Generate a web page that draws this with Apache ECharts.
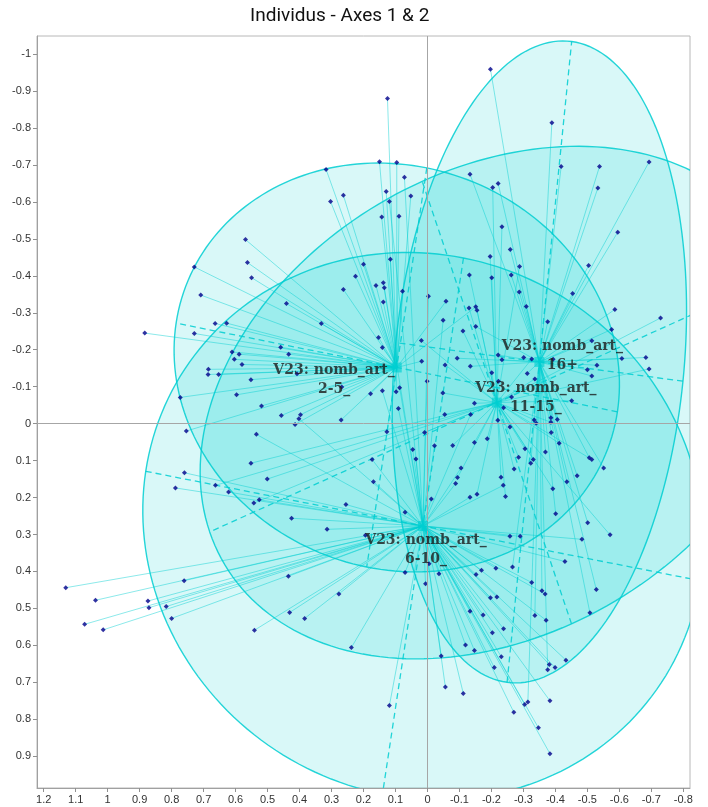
<!DOCTYPE html>
<html><head><meta charset="utf-8">
<script src="https://cdn.jsdelivr.net/npm/echarts@6/dist/echarts.min.js"></script>
<style>html,body{margin:0;padding:0;background:#fff}#main{width:708px;height:807px}</style>
</head><body><div id="main"></div>
<script>
const groupNames = ['2-5_', '6-10_', '11-15_', '16+'];
const centroids = [[0.096, -0.152], [0.014, 0.277], [-0.217, -0.057], [-0.350, -0.167]];
const ellipseMajor = [[0.690, -0.120], [-0.867, 0.148], [0.898, 0.350], [-0.101, -0.867]];
const ellipseMinor = [[0.0939, 0.540], [0.1266, 0.7253], [0.2334, -0.5987], [0.449, -0.0522]];

const pts_2_5 = [[0.125,-0.880],[0.150,-0.709],[0.096,-0.707],[0.129,-0.628],[0.052,-0.616],[0.143,-0.559],[0.089,-0.561],[0.317,-0.688],[0.303,-0.601],[0.263,-0.618],[0.200,-0.431],[0.225,-0.399],[0.263,-0.363],[0.569,-0.498],[0.563,-0.436],[0.550,-0.395],[0.729,-0.424],[0.709,-0.348],[0.441,-0.325],[0.116,-0.445],[0.161,-0.374],[0.138,-0.381],[0.138,-0.329],[0.078,-0.358],[-0.058,-0.331],[-0.151,-0.316],[0.332,-0.271],[0.664,-0.271],[0.628,-0.272],[0.884,-0.245],[0.729,-0.244],[0.459,-0.207],[0.434,-0.188],[0.611,-0.194],[0.589,-0.188],[0.604,-0.174],[0.580,-0.160],[0.685,-0.147],[0.686,-0.133],[0.653,-0.133],[0.552,-0.119],[0.597,-0.078],[0.773,-0.071],[0.519,-0.048],[0.408,-0.135],[0.268,-0.099],[0.153,-0.233],[0.141,-0.206],[0.018,-0.169],[0.178,-0.081],[0.098,-0.086],[0.457,-0.022],[0.397,-0.024],[0.414,0.002],[0.270,-0.010],[0.127,0.022],[0.754,0.020]];
const pts_6_10 = [[0.072,-0.667],[0.119,-0.601],[0.135,-0.368],[-0.003,-0.345],[-0.049,-0.280],[0.001,-0.115],[0.141,-0.089],[0.087,-0.097],[0.091,-0.041],[-0.135,-0.025],[0.402,-0.013],[0.535,0.029],[-0.022,0.060],[0.046,0.070],[0.036,0.096],[0.173,0.097],[-0.105,0.120],[-0.088,0.162],[-0.237,0.167],[0.169,0.157],[0.255,0.219],[-0.012,0.204],[-0.133,0.199],[0.070,0.240],[-0.258,0.305],[-0.290,0.305],[-0.483,0.313],[0.760,0.133],[0.788,0.174],[0.622,0.185],[0.526,0.206],[0.425,0.256],[0.314,0.286],[0.194,0.302],[0.761,0.425],[0.435,0.413],[0.277,0.461],[1.131,0.444],[1.038,0.478],[0.874,0.480],[0.871,0.498],[0.817,0.495],[0.800,0.527],[1.072,0.543],[1.014,0.558],[0.431,0.511],[0.384,0.527],[0.541,0.559],[0.238,0.606],[-0.430,0.373],[0.070,0.403],[-0.005,0.379],[-0.036,0.406],[0.006,0.433],[-0.152,0.408],[-0.169,0.397],[-0.214,0.391],[-0.326,0.430],[-0.368,0.461],[-0.197,0.471],[-0.217,0.469],[-0.133,0.508],[-0.174,0.518],[-0.371,0.532],[-0.203,0.566],[-0.238,0.555],[-0.119,0.599],[-0.147,0.614],[-0.043,0.629],[-0.231,0.631],[-0.209,0.660],[-0.381,0.652],[-0.399,0.660],[-0.433,0.640],[-0.056,0.713],[-0.112,0.730],[0.119,0.763],[-0.304,0.760],[-0.383,0.750],[-0.270,0.781],[-0.347,0.823],[-0.383,0.893]];
const pts_11_15 = [[-0.204,-0.639],[-0.233,-0.533],[-0.196,-0.452],[-0.288,-0.425],[-0.131,-0.402],[-0.201,-0.395],[-0.729,-0.286],[-0.130,-0.313],[-0.155,-0.307],[-0.111,-0.251],[0.019,-0.225],[-0.055,-0.159],[-0.201,-0.138],[-0.326,-0.175],[-0.048,-0.083],[-0.054,-0.025],[-0.147,-0.055],[-0.222,-0.115],[-0.263,-0.072],[-0.238,-0.043],[-0.336,-0.121],[-0.693,-0.148],[-0.451,-0.062],[-0.220,-0.009],[-0.258,0.009],[-0.334,-0.010],[-0.386,-0.004],[-0.412,0.053],[0.009,0.024],[-0.079,0.059],[-0.147,0.051],[-0.187,0.041],[-0.305,0.068],[-0.285,0.091],[-0.331,0.097],[-0.271,0.123],[-0.094,0.146],[-0.230,0.145],[-0.244,0.197],[-0.392,0.176],[-0.155,0.191],[-0.514,0.097],[-0.571,0.301],[0.552,0.107],[0.501,0.150],[0.663,0.167],[0.543,0.215]];
const pts_16 = [[-0.197,-0.959],[-0.389,-0.814],[-0.418,-0.696],[-0.538,-0.696],[-0.693,-0.708],[-0.533,-0.638],[-0.133,-0.675],[-0.221,-0.650],[-0.595,-0.518],[-0.259,-0.471],[-0.504,-0.428],[-0.262,-0.402],[-0.454,-0.352],[-0.586,-0.309],[-0.287,-0.356],[-0.309,-0.317],[-0.151,-0.263],[-0.376,-0.276],[-0.576,-0.255],[-0.514,-0.224],[-0.093,-0.177],[-0.134,-0.155],[-0.221,-0.186],[-0.233,-0.173],[-0.301,-0.179],[-0.393,-0.174],[-0.312,-0.136],[-0.500,-0.146],[-0.530,-0.158],[-0.514,-0.129],[-0.608,-0.176],[-0.683,-0.179],[-0.340,-0.001],[-0.386,-0.016],[-0.406,-0.011],[-0.387,0.024],[-0.369,0.077],[-0.323,0.107],[-0.436,0.157],[-0.401,0.244],[-0.506,0.092],[-0.551,0.120],[-0.468,0.141],[-0.501,0.268],[-0.266,0.388],[-0.358,0.452],[-0.528,0.449],[-0.336,0.519],[-0.508,0.512],[-0.376,0.666],[-0.314,0.753]];

const xTicks = [1.2,1.1,1,0.9,0.8,0.7,0.6,0.5,0.4,0.3,0.2,0.1,0,-0.1,-0.2,-0.3,-0.4,-0.5,-0.6,-0.7,-0.8];
const yTicks = [-1,-0.9,-0.8,-0.7,-0.6,-0.5,-0.4,-0.3,-0.2,-0.1,0,0.1,0.2,0.3,0.4,0.5,0.6,0.7,0.8,0.9];

const groupPoints = [pts_2_5, pts_6_10, pts_11_15, pts_16];
const labelOffsets = [[-62.7, 12.7], [3, 24], [39, -4.5], [23, -6.5]];

const CYAN = '0,206,209';
const starData = [];
const allPoints = [];
groupPoints.forEach((arr, g) => {
  arr.forEach(p => {
    starData.push([p[0], p[1], centroids[g][0], centroids[g][1]]);
    allPoints.push(p);
  });
});

function clipOf(params) {
  const cs = params.coordSys;
  return {type: 'rect', shape: {x: cs.x, y: cs.y, width: cs.width, height: cs.height}};
}

function renderEllipse(params, api) {
  const i = params.dataIndex;
  const c = centroids[i], u = ellipseMajor[i], v = ellipseMinor[i];
  const pts = [];
  const N = 200;
  for (let k = 0; k < N; k++) {
    const t = k / N * Math.PI * 2;
    pts.push(api.coord([c[0] + Math.cos(t) * u[0] + Math.sin(t) * v[0],
                        c[1] + Math.cos(t) * u[1] + Math.sin(t) * v[1]]));
  }
  const a1 = api.coord([c[0] - u[0], c[1] - u[1]]), a2 = api.coord([c[0] + u[0], c[1] + u[1]]);
  const b1 = api.coord([c[0] - v[0], c[1] - v[1]]), b2 = api.coord([c[0] + v[0], c[1] + v[1]]);
  const dash = {stroke: 'rgba(' + CYAN + ',0.85)', lineWidth: 1.3, lineDash: [6, 4]};
  return {
    type: 'group',
    clipPath: clipOf(params),
    children: [
      {type: 'polygon', shape: {points: pts}, style: {fill: 'rgba(' + CYAN + ',0.15)', stroke: 'rgba(' + CYAN + ',0.85)', lineWidth: 1.4}},
      {type: 'line', shape: {x1: a1[0], y1: a1[1], x2: a2[0], y2: a2[1]}, style: dash},
      {type: 'line', shape: {x1: b1[0], y1: b1[1], x2: b2[0], y2: b2[1]}, style: dash}
    ]
  };
}

function renderStar(params, api) {
  const p = api.coord([api.value(0), api.value(1)]);
  const q = api.coord([api.value(2), api.value(3)]);
  return {
    type: 'line',
    shape: {x1: p[0], y1: p[1], x2: q[0], y2: q[1]},
    style: {stroke: 'rgba(' + CYAN + ',0.45)', lineWidth: 1}
  };
}

const chart = echarts.init(document.getElementById('main'), null, {renderer: 'canvas'});
chart.setOption({
  animation: false,
  backgroundColor: '#fff',
  title: {
    text: 'Individus - Axes 1 & 2',
    left: 250, top: 7, padding: 0,
    textStyle: {fontFamily: 'Roboto', fontSize: 19, fontWeight: 'normal', color: '#111'}
  },
  grid: {left: 37, right: 18, top: 36, bottom: 19, show: true, borderColor: '#b8b8b8', borderWidth: 1, backgroundColor: 'transparent'},
  xAxis: {
    type: 'value', inverse: true, min: -0.821, max: 1.221,
    axisLine: {show: true, onZero: false, lineStyle: {color: '#a0a0a0'}},
    axisTick: {show: true, customValues: xTicks, length: 4, lineStyle: {color: '#909090'}},
    axisLabel: {customValues: xTicks, margin: 6, color: '#333', fontSize: 11, fontFamily: 'Liberation Sans',
      formatter: v => String(Math.round(v * 10) / 10)},
    splitLine: {show: false}
  },
  yAxis: {
    type: 'value', inverse: true, min: -1.049, max: 0.986,
    axisLine: {show: true, onZero: false, lineStyle: {color: '#a0a0a0'}},
    axisTick: {show: true, customValues: yTicks, length: 4, lineStyle: {color: '#909090'}},
    axisLabel: {customValues: yTicks, margin: 6, color: '#333', fontSize: 11, fontFamily: 'Liberation Sans',
      formatter: v => String(Math.round(v * 10) / 10)},
    splitLine: {show: false}
  },
  series: [
    {
      type: 'scatter', data: [], z: 1, silent: true,
      markLine: {
        silent: true, symbol: ['none', 'none'], label: {show: false},
        lineStyle: {color: '#a6a6a6', width: 1, type: 'solid'},
        data: [{xAxis: 0}, {yAxis: 0}]
      }
    },
    {
      type: 'custom', z: 2, silent: true,
      data: centroids.map((c, i) => [c[0], c[1], i]),
      renderItem: renderEllipse
    },
    {
      type: 'custom', z: 3, silent: true,
      data: starData,
      renderItem: renderStar
    },
    {
      type: 'scatter', z: 4, silent: true,
      symbol: 'diamond', symbolSize: 5,
      itemStyle: {color: '#00008b'},
      data: allPoints
    },
    {
      type: 'scatter', z: 5, silent: true,
      symbol: 'rect', symbolSize: 10,
      itemStyle: {color: 'rgba(' + CYAN + ',0.8)'},
      data: centroids.map((c, i) => ({
        value: c,
        label: {
          show: true, position: 'inside', offset: labelOffsets[i],
          formatter: 'V23: nomb_art_\n' + groupNames[i],
          fontFamily: 'DejaVu Serif', fontSize: 14, fontWeight: 'bold', lineHeight: 19, color: '#1a1a1a', align: 'center'
        }
      }))
    }
  ]
});
</script>
</body></html>
